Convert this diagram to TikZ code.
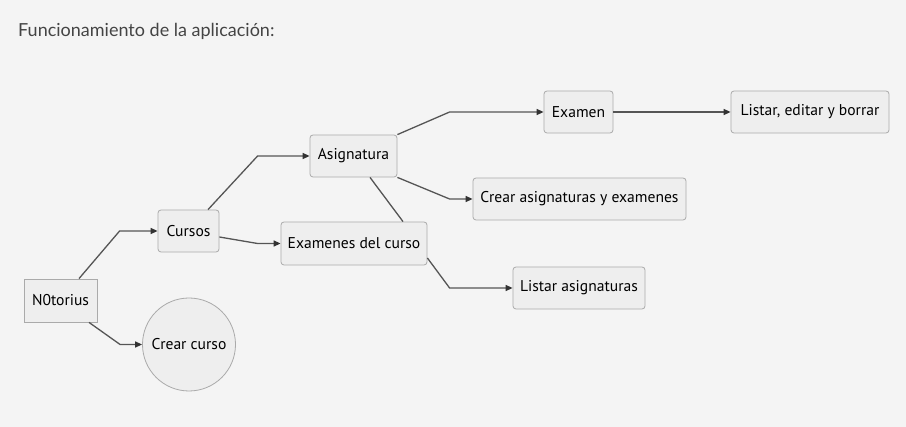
\documentclass[tikz,border=0pt]{standalone}
\usepackage{fontspec}
\setmainfont{PT Sans}
\newfontfamily\titlefont{Lato}
\usetikzlibrary{arrows.meta,calc}
\definecolor{bg}{HTML}{F4F4F4}
\definecolor{nodefill}{HTML}{EEEEEE}
\definecolor{nodeborder}{HTML}{AAAAAA}
\definecolor{edgecol}{HTML}{555555}
\definecolor{tipcol}{HTML}{333333}
\definecolor{titlecol}{HTML}{444444}
\begin{document}
\begin{tikzpicture}[x=1pt,y=-1pt,
  box/.style={draw=nodeborder, fill=nodefill, rounded corners=3pt, line width=0.8pt,
    minimum height=42pt, inner sep=0pt, font=\fontsize{15.6}{18}\selectfont, text=black},
  sqbox/.style={box, rounded corners=0pt},
  circ/.style={draw=nodeborder, fill=nodefill, circle, line width=0.8pt, minimum size=93pt,
    inner sep=0pt, font=\fontsize{15.6}{18}\selectfont, text=black},
  link/.style={draw=edgecol, line width=1.3pt, -{Triangle[length=7pt,width=6pt,color=tipcol]}},
  plainlink/.style={draw=edgecol, line width=1.3pt}
]
\fill[bg] (0,0) rectangle (906,427);
\useasboundingbox (0,0) rectangle (906,427);

\node[anchor=base west, text=titlecol, font=\titlefont\fontsize{18}{21}\selectfont, inner sep=0pt] (title) at (18,37) {Funcionamiento de la aplicación:};

\node[sqbox, minimum width=73pt, minimum height=43pt] (n0) at (60.5,300.5) {N0torius};
\node[box, minimum width=61pt] (cursos) at (188.5,231) {Cursos};
\node[circ] (crear) at (189,344.5) {Crear curso};
\node[box, minimum width=87pt] (asig) at (353.5,156) {Asignatura};
\node[box, minimum width=146pt, minimum height=43pt] (exc) at (354,243.5) {Examenes del curso};
\node[box, minimum width=69pt] (examen) at (578.5,112) {Examen};
\node[box, minimum width=158pt] (listar) at (810,112) {Listar, editar y borrar};
\node[box, minimum width=213pt] (crearasig) at (579.5,199) {Crear asignaturas y examenes};
\node[box, minimum width=132pt] (listasig) at (579,288) {Listar asignaturas};

\draw[link] ([xshift=18.5pt]n0.north) -- ([xshift=-38pt]cursos.west) -- (cursos.west);
\draw[link] ([xshift=28.5pt]n0.south) -- ([xshift=-22pt]crear.west) -- (crear.west);
\draw[link] ([xshift=19.5pt]cursos.north) -- ([xshift=-52pt]asig.west) -- (asig.west);
\draw[link] ([yshift=-6pt]cursos.east) -- ([xshift=-23pt]exc.west) -- (exc.west);
\draw[link] (asig.north east) -- ([xshift=-94pt]examen.west) -- (examen.west);
\draw[link] (asig.south east) -- ([xshift=-23pt]crearasig.west) -- (crearasig.west);
\draw[plainlink] ([xshift=16.5pt]asig.south) -- ([xshift=49pt]exc.north);
\draw[link] ([yshift=-14.5pt]exc.east) -- ([xshift=-63pt]listasig.west) -- (listasig.west);
\draw[link] (examen.east) -- (listar.west);
\end{tikzpicture}
\end{document}
